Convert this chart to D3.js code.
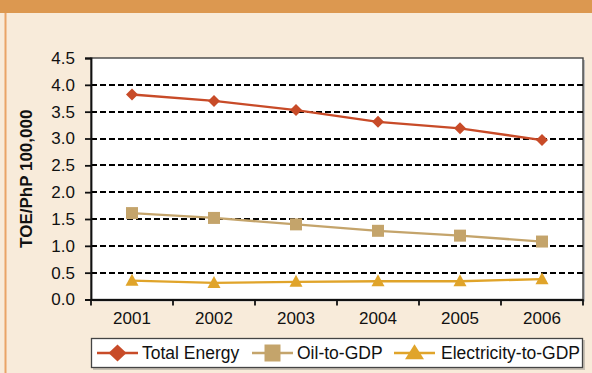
<!DOCTYPE html>
<html>
<head>
<meta charset="utf-8">
<script src="https://cdn.jsdelivr.net/npm/d3@7"></script>
<style>
  html, body { margin: 0; padding: 0; background: #F8EBDA; }
  svg { display: block; }
  text { font-family: "Liberation Sans", Arial, sans-serif; fill: #111; }
</style>
</head>
<body>
<svg id="chart" width="592" height="373"></svg>
<script>
const years = ["2001", "2002", "2003", "2004", "2005", "2006"];
const totalEnergy = [3.82, 3.70, 3.53, 3.31, 3.19, 2.97];
const oilToGdp = [1.61, 1.52, 1.40, 1.28, 1.19, 1.08];
const electricityToGdp = [0.35, 0.31, 0.33, 0.34, 0.34, 0.38];
const seriesNames = ["Total Energy", "Oil-to-GDP", "Electricity-to-GDP"];
const yTicks = [0, 0.5, 1.0, 1.5, 2.0, 2.5, 3.0, 3.5, 4.0, 4.5];
const yTitle = "TOE/PhP 100,000";

(function () {
// custom marker shapes (width, height) for d3.symbol
const diamond = (w, h) => ({ draw(ctx) { ctx.moveTo(0, -h / 2); ctx.lineTo(w / 2, 0); ctx.lineTo(0, h / 2); ctx.lineTo(-w / 2, 0); ctx.closePath(); } });
const square = (w, h) => ({ draw(ctx) { ctx.moveTo(-w / 2, -h / 2); ctx.lineTo(w / 2, -h / 2); ctx.lineTo(w / 2, h / 2); ctx.lineTo(-w / 2, h / 2); ctx.closePath(); } });
const triangle = (w, h) => ({ draw(ctx) { ctx.moveTo(0, -h * 0.58); ctx.lineTo(w / 2, h * 0.42); ctx.lineTo(-w / 2, h * 0.42); ctx.closePath(); } });

const series = [
  { name: seriesNames[0], values: totalEnergy, color: "#C84B28", mark: diamond(12, 12), lmark: diamond(18, 17) },
  { name: seriesNames[1], values: oilToGdp, color: "#C4A46B", mark: square(12, 12), lmark: square(16, 17) },
  { name: seriesNames[2], values: electricityToGdp, color: "#E0A42A", mark: triangle(13, 12), lmark: triangle(19, 15) }
];

const svg = d3.select("#chart");
const W = 592, H = 373;
const pL = 91, pR = 583, pT = 58, pB = 299.5;
const FS = 17;

svg.append("rect").attr("x", 0).attr("y", 0).attr("width", W).attr("height", H).attr("fill", "#F8EBDA");
svg.append("rect").attr("x", 0).attr("y", 0).attr("width", W).attr("height", 13).attr("fill", "#DC9850");
svg.append("rect").attr("x", 4.5).attr("y", 13).attr("width", 2).attr("height", H - 13).attr("fill", "#E9A467");

const x = d3.scaleBand().domain(years).range([pL, pR]).paddingInner(0).paddingOuter(0);
const y = d3.scaleLinear().domain([0, 4.5]).range([pB, pT]);

svg.append("rect").attr("x", pL + 2).attr("y", pT + 2).attr("width", pR - pL).attr("height", pB - pT)
  .attr("fill", "#bbb");
svg.append("rect").attr("x", pL).attr("y", pT).attr("width", pR - pL).attr("height", pB - pT)
  .attr("fill", "#fff").attr("stroke", "#444").attr("stroke-width", 1.4);

svg.append("g").selectAll("line")
  .data(yTicks.filter(v => v > 0 && v < 4.5))
  .join("line")
  .attr("x1", pL).attr("x2", pR)
  .attr("y1", d => Math.round(y(d))).attr("y2", d => Math.round(y(d)))
  .attr("stroke", "#000").attr("stroke-width", 2).attr("stroke-dasharray", "6,3");

const yAxis = d3.axisLeft(y).tickValues(yTicks).tickFormat(d3.format(".1f")).tickSize(6).tickPadding(10);
const gy = svg.append("g").attr("transform", `translate(${pL},0)`).call(yAxis);
gy.select(".domain").attr("stroke", "#111").attr("stroke-width", 1.8);
gy.selectAll(".tick line").attr("stroke", "#111").attr("stroke-width", 1.8);
gy.selectAll(".tick text").attr("font-size", FS).attr("fill", "#111")
  .style("font-family", '"Liberation Sans", Arial, sans-serif');

const xAxis = d3.axisBottom(x).tickSize(0).tickPadding(12);
const gx = svg.append("g").attr("transform", `translate(0,${pB})`).call(xAxis);
gx.select(".domain").attr("stroke", "#111").attr("stroke-width", 1.8);
gx.selectAll(".tick text").attr("font-size", FS).attr("fill", "#111")
  .style("font-family", '"Liberation Sans", Arial, sans-serif');
const bounds = years.map(d => x(d)).concat([x(years[years.length - 1]) + x.bandwidth()]);
svg.append("g").selectAll("line").data(bounds).join("line")
  .attr("x1", d => d).attr("x2", d => d)
  .attr("y1", pB).attr("y2", pB + 6)
  .attr("stroke", "#111").attr("stroke-width", 1.8);

svg.append("text")
  .attr("transform", `translate(32,${(pT + pB) / 2}) rotate(-90)`)
  .attr("text-anchor", "middle")
  .attr("font-size", FS).attr("font-weight", "bold")
  .text(yTitle);

const line = d3.line().x((d, i) => x(years[i]) + x.bandwidth() / 2).y(d => y(d));
series.forEach(s => {
  svg.append("path").datum(s.values).attr("d", line)
    .attr("fill", "none").attr("stroke", s.color).attr("stroke-width", 2.3);
  svg.append("g").selectAll("path").data(s.values).join("path")
    .attr("transform", (d, i) => `translate(${x(years[i]) + x.bandwidth() / 2},${y(d)})`)
    .attr("d", d3.symbol().type(s.mark))
    .attr("fill", s.color);
});

const lg = svg.append("g");
lg.append("rect").attr("x", 93).attr("y", 340).attr("width", 492).attr("height", 30).attr("fill", "#c8c0b4");
lg.append("rect").attr("x", 91.5).attr("y", 338.5).attr("width", 491).attr("height", 29)
  .attr("fill", "#fff").attr("stroke", "#444").attr("stroke-width", 1.3);
const legendPos = [
  { lx: 97, tx: 142 },
  { lx: 252, tx: 297 },
  { lx: 394, tx: 441 }
];
series.forEach((s, i) => {
  const p = legendPos[i];
  lg.append("line").attr("x1", p.lx).attr("x2", p.lx + 41).attr("y1", 353).attr("y2", 353)
    .attr("stroke", s.color).attr("stroke-width", 2.3);
  lg.append("path").attr("transform", `translate(${p.lx + 20.5},353)`)
    .attr("d", d3.symbol().type(s.lmark)).attr("fill", s.color);
  lg.append("text").attr("x", p.tx).attr("y", 358.5).attr("font-size", 17.5).text(s.name);
});
})();
</script>
</body>
</html>
